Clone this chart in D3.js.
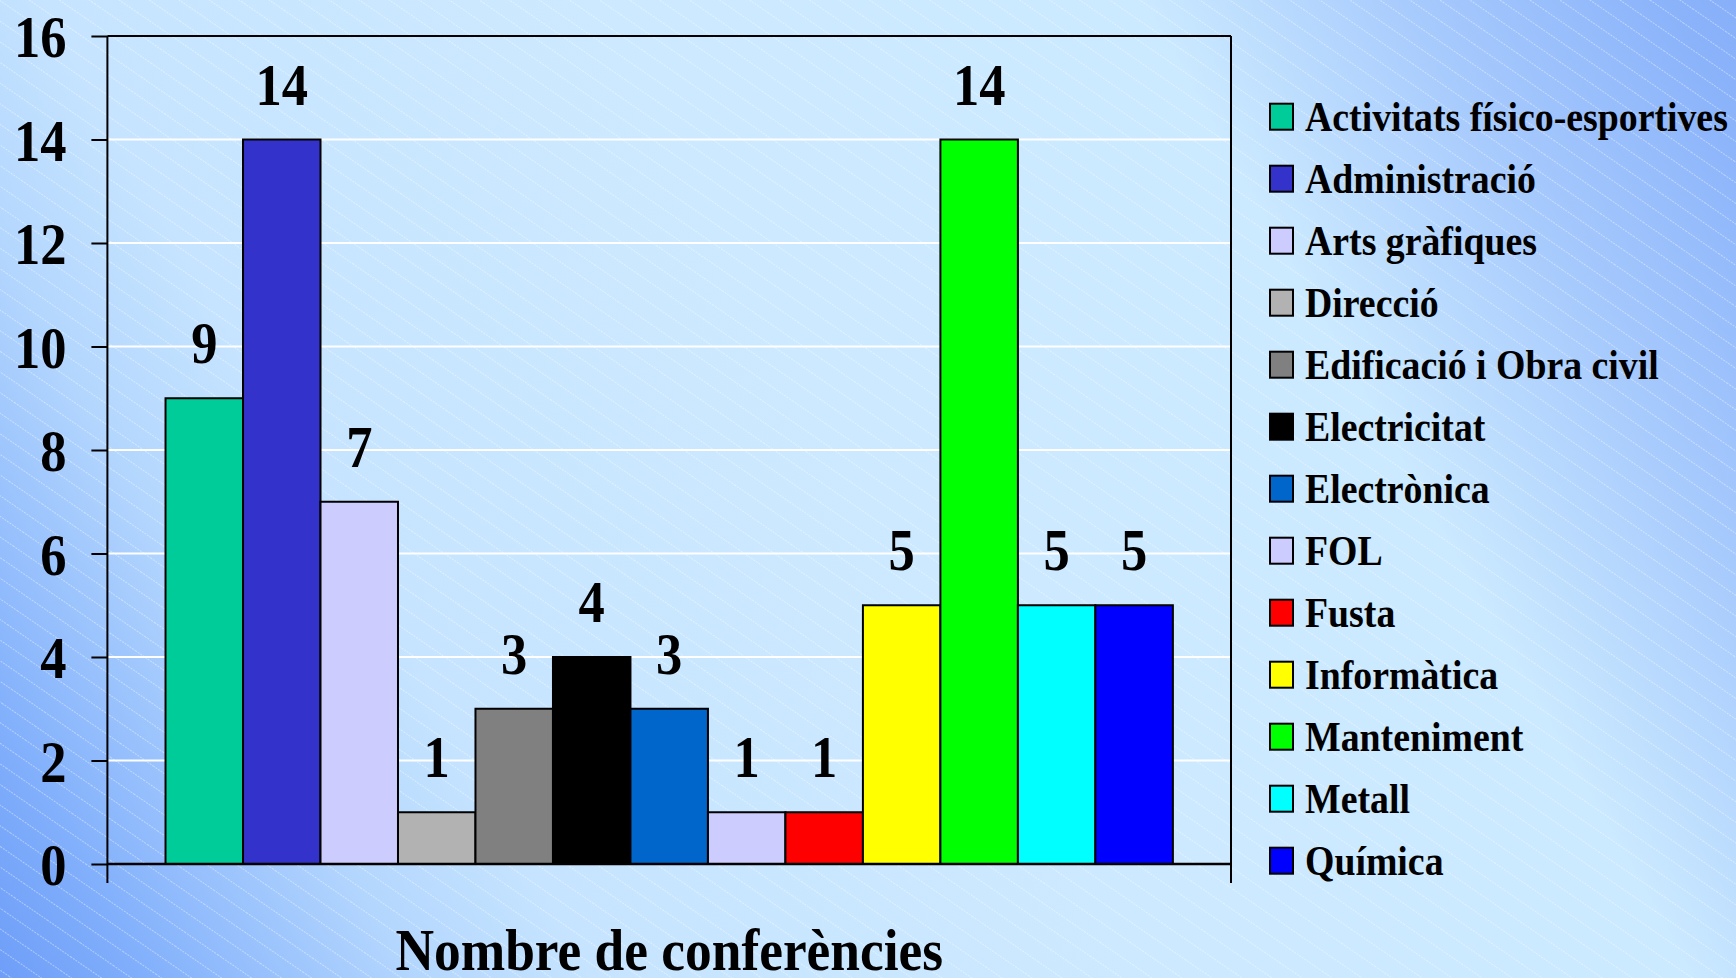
<!DOCTYPE html>
<html>
<head>
<meta charset="utf-8">
<script src="https://cdn.jsdelivr.net/npm/d3@7"></script>
<style>
  html, body { margin: 0; padding: 0; overflow: hidden; }
  svg { display: block; }
  text { font-family: "Liberation Serif", "Times New Roman", serif; font-weight: bold; fill: #000; }
</style>
</head>
<body>
<div id="chart"></div>
<script>
// chart values
var categories = ["Activitats físico-esportives", "Administració", "Arts gràfiques", "Direcció",
  "Edificació i Obra civil", "Electricitat", "Electrònica", "FOL", "Fusta", "Informàtica",
  "Manteniment", "Metall", "Química"];
var values = [9, 14, 7, 1, 3, 4, 3, 1, 1, 5, 14, 5, 5];
var colors = ["#00cc99", "#3333cc", "#ccccff", "#b2b2b2", "#808080", "#000000", "#0066cc",
  "#ccccff", "#ff0000", "#ffff00", "#00ff00", "#00ffff", "#0000ff"];
var yTicks = [0, 2, 4, 6, 8, 10, 12, 14, 16];
var groupLabel = "Nombre de conferències";

(function(){
	var w = 1736, h = 978;
	var left = 107.4, right = 1231, top = 36, bottom = 864;
	var sx = 0.89; // the slide text is a bit narrow

	var svg = d3.select("#chart").append("svg")
		.attr("width", w)
		.attr("height", h);

	var defs = svg.append("defs");

	// background gradient, dark at lower-left and upper-right corners
	var grad = defs.append("linearGradient")
		.attr("id", "bg")
		.attr("gradientUnits", "userSpaceOnUse")
		.attr("x1", 0).attr("y1", h)
		.attr("x2", w).attr("y2", 0);
	[[0, "#6e9ef8"], [0.06, "#80aefb"], [0.18, "#b3d6fe"], [0.26, "#c6e4ff"], [0.5, "#cce9ff"],
	 [0.74, "#cbe9ff"], [0.85, "#a9ccfd"], [0.97, "#8bb3fa"], [1, "#88b0fa"]].forEach(function(s){
		grad.append("stop").attr("offset", s[0]).attr("stop-color", s[1]);
	});

	// thin diagonal hatch lines
	var pat = defs.append("pattern")
		.attr("id", "hatch")
		.attr("patternUnits", "userSpaceOnUse")
		.attr("width", 40).attr("height", 17)
		.attr("patternTransform", "rotate(34.5)");
	pat.append("line")
		.attr("x1", 0).attr("x2", 40)
		.attr("y1", 0.5).attr("y2", 0.5)
		.attr("stroke", "#ffffff")
		.attr("stroke-opacity", 0.4)
		.attr("stroke-width", 1)
		.attr("stroke-dasharray", "2,1");

	svg.append("rect").attr("width", w).attr("height", h).attr("fill", "url(#bg)");
	svg.append("rect").attr("width", w).attr("height", h).attr("fill", "url(#hatch)");

	var yscale = d3.scaleLinear()
		.domain([0, 16])
		.range([bottom, top]);

	var x0 = d3.scaleBand()
		.domain([groupLabel])
		.range([left, right])
		.paddingInner(0)
		.paddingOuter(0.0577);

	var x1 = d3.scaleBand()
		.domain(categories)
		.range([0, x0.bandwidth()]);

	// white gridlines
	svg.append("g")
		.selectAll("line")
		.data(yTicks.filter(function(t){ return t > 0 && t < 16; }))
		.enter().append("line")
		.attr("x1", left).attr("x2", right)
		.attr("y1", function(d){ return yscale(d); })
		.attr("y2", function(d){ return yscale(d); })
		.attr("stroke", "#ffffff")
		.attr("stroke-width", 2);

	// bars
	var gx = x0(groupLabel);
	svg.append("g")
		.selectAll("rect")
		.data(values)
		.enter().append("rect")
		.attr("x", function(d, i){ return gx + x1(categories[i]); })
		.attr("y", function(d){ return yscale(d); })
		.attr("width", x1.bandwidth())
		.attr("height", function(d){ return yscale(0) - yscale(d); })
		.attr("fill", function(d, i){ return colors[i]; })
		.attr("stroke", "#000")
		.attr("stroke-width", 2);

	// value labels above bars
	svg.append("g")
		.selectAll("text")
		.data(values)
		.enter().append("text")
		.attr("text-anchor", "middle")
		.style("font-size", "59px")
		.attr("transform", function(d, i){
			var cx = gx + x1(categories[i]) + x1.bandwidth() / 2;
			return "translate(" + cx + "," + (yscale(d) - 35) + ") scale(" + sx + ",1)";
		})
		.text(function(d){ return d; });

	// plot frame (top and right)
	svg.append("line")
		.attr("x1", left).attr("x2", right).attr("y1", top).attr("y2", top)
		.attr("stroke", "#000").attr("stroke-width", 2);
	svg.append("line")
		.attr("x1", right).attr("x2", right).attr("y1", top).attr("y2", bottom + 19)
		.attr("stroke", "#000").attr("stroke-width", 2);

	// y axis
	var yaxis = d3.axisLeft(yscale)
		.tickValues(yTicks)
		.tickSize(16)
		.tickSizeOuter(0);

	var gY = svg.append("g")
		.attr("transform", "translate(" + left + ",0)")
		.call(yaxis);
	gY.select(".domain").remove();
	gY.selectAll(".tick line").attr("stroke", "#000").attr("stroke-width", 2);
	gY.selectAll(".tick text")
		.attr("x", null).attr("dy", null)
		.attr("transform", "translate(-41,20.5) scale(" + sx + ",1)")
		.attr("text-anchor", "end")
		.style("font-size", "59px")
		.attr("font-family", null)
		.attr("font-size", null);

	svg.append("line")
		.attr("x1", left).attr("x2", left).attr("y1", top).attr("y2", bottom + 19)
		.attr("stroke", "#000").attr("stroke-width", 2);

	// x axis, single category
	svg.append("line")
		.attr("x1", left).attr("x2", right).attr("y1", bottom).attr("y2", bottom)
		.attr("stroke", "#000").attr("stroke-width", 2.5);

	svg.append("text")
		.attr("text-anchor", "middle")
		.style("font-size", "60px")
		.attr("transform", "translate(" + (x0(groupLabel) + x0.bandwidth() / 2) + ",970) scale(" + sx + ",1)")
		.text(groupLabel);

	// legend
	var legend = svg.append("g")
		.selectAll("g")
		.data(categories)
		.enter().append("g")
		.attr("transform", function(d, i){ return "translate(1270," + (116.7 + i * 62) + ")"; });

	legend.append("rect")
		.attr("x", 0).attr("y", -13)
		.attr("width", 23).attr("height", 26)
		.attr("fill", function(d, i){ return colors[i]; })
		.attr("stroke", "#000")
		.attr("stroke-width", 2);

	legend.append("text")
		.style("font-size", "42px")
		.attr("transform", "translate(35,14.5) scale(0.9,1)")
		.text(function(d){ return d; });
})();
</script>
</body>
</html>
